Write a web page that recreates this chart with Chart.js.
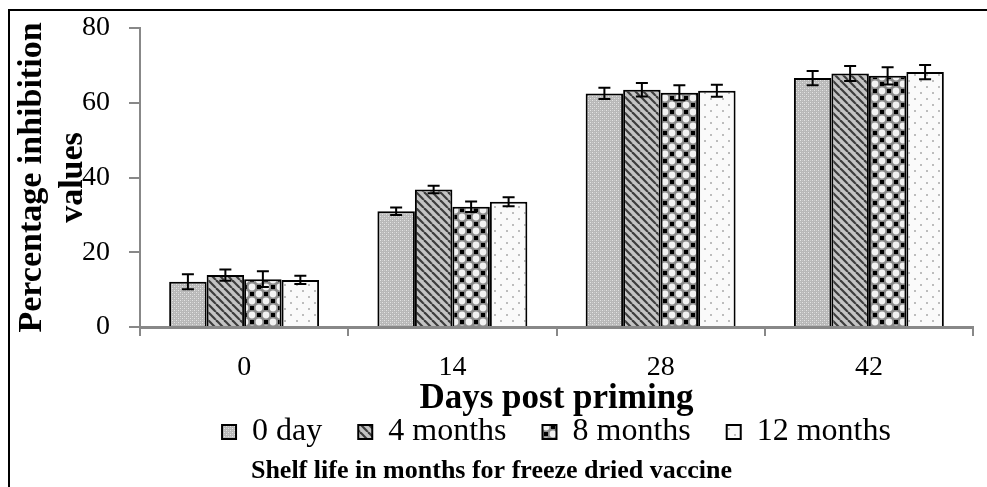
<!DOCTYPE html>
<html>
<head>
<meta charset="utf-8">
<script src="https://cdn.jsdelivr.net/npm/chart.js@4.4.1/dist/chart.umd.min.js"></script>
<style>
    body { margin: 0; background: #fff; }
    #wrap { position: relative; width: 987px; height: 487px; overflow: hidden; }
    #frame { position: absolute; left: 8px; top: 9px; width: 990px; height: 490px; border-left: 2px solid #000; border-top: 2px solid #000; }
    canvas { position: absolute; left: 0; top: 0; }
</style>
</head>
<body>
<div id="wrap">
    <canvas id="chart_inhibition" width="987" height="487"></canvas>
    <div id="frame"></div>
</div>
<script>
const DAYS = ["0", "14", "28", "42"];
const SERIES_NAMES = ["0 day", "4 months", "8 months", "12 months"];

const DAY0_VALUES = [12.1, 31.0, 62.5, 66.6];
const MONTH4_VALUES = [13.9, 36.8, 63.5, 67.8];
const MONTH8_VALUES = [12.8, 32.2, 62.7, 67.2];
const MONTH12_VALUES = [12.6, 33.5, 63.2, 68.2];

const DAY0_ERRORS = [2.0, 1.0, 1.5, 1.9];
const MONTH4_ERRORS = [1.5, 1.0, 1.8, 2.0];
const MONTH8_ERRORS = [2.1, 1.4, 2.0, 2.3];
const MONTH12_ERRORS = [1.1, 1.2, 1.6, 1.9];

const Y_TICKS = [0, 20, 40, 60, 80];

const FONT = "'Liberation Serif', 'Times New Roman', serif";

// small canvas tiles used as fill patterns
const makeTile = (size, draw) => {
    const c = document.createElement("canvas");
    c.width = size;
    c.height = size;
    const g = c.getContext("2d");
    draw(g, size);
    return g.createPattern(c, "repeat");
};

const patternDots = makeTile(4, (g, s) => {
    g.fillStyle = "#b8b8b8";
    g.fillRect(0, 0, s, s);
    g.fillStyle = "#e4e4e4";
    g.fillRect(0, 0, 1, 1);
    g.fillRect(2, 2, 1, 1);
    g.fillStyle = "#cacaca";
    g.fillRect(2, 0, 1, 1);
    g.fillRect(0, 2, 1, 1);
});

const patternStripes = makeTile(8, (g, s) => {
    g.fillStyle = "#c4c4c4";
    g.fillRect(0, 0, s, s);
    g.strokeStyle = "#3c3c3c";
    g.lineWidth = 2.2;
    for (let k = -1; k <= 1; k++) {
        g.beginPath();
        g.moveTo(k * s, 0);
        g.lineTo(k * s + s, s);
        g.stroke();
    }
});

const patternChecker = makeTile(14, (g, s) => {
    g.fillStyle = "#8a8a8a";
    g.fillRect(0, 0, s, s);
    g.fillStyle = "#f2f2f2";
    [[s / 2, 0], [0, s / 2], [s, s / 2], [s / 2, s]].forEach(([x, y]) => {
        g.beginPath();
        g.arc(x, y, 3.4, 0, Math.PI * 2);
        g.fill();
    });
    g.fillStyle = "#000";
    g.fillRect(0, 0, 2, 2);
    g.fillRect(s - 2, 0, 2, 2);
    g.fillRect(0, s - 2, 2, 2);
    g.fillRect(s - 2, s - 2, 2, 2);
    g.fillRect(s / 2 - 2, s / 2 - 2, 4, 4);
});

const patternSparse = makeTile(12, (g, s) => {
    g.fillStyle = "#fafafa";
    g.fillRect(0, 0, s, s);
    g.fillStyle = "#bdbdbd";
    g.fillRect(2, 2, 2, 2);
    g.fillRect(8, 8, 2, 2);
});

const errorBars = {
    id: "errorBars",
    afterDatasetsDraw(chart) {
        const ctx = chart.ctx;
        const y = chart.scales.y;
        ctx.save();
        ctx.strokeStyle = "#000";
        ctx.lineWidth = 2;
        chart.data.datasets.forEach((ds, i) => {
            const meta = chart.getDatasetMeta(i);
            meta.data.forEach((bar, j) => {
                const v = ds.data[j];
                const e = ds.errors[j];
                const top = y.getPixelForValue(v + e);
                const bottom = y.getPixelForValue(v - e);
                const cap = 6;
                ctx.beginPath();
                ctx.moveTo(bar.x, top);
                ctx.lineTo(bar.x, bottom);
                ctx.moveTo(bar.x - cap, top);
                ctx.lineTo(bar.x + cap, top);
                ctx.moveTo(bar.x - cap, bottom);
                ctx.lineTo(bar.x + cap, bottom);
                ctx.stroke();
            });
        });
        ctx.restore();
    },
};

const makeDataset = (label, values, errors, fill) => ({
    label: label,
    data: values,
    errors: errors,
    backgroundColor: fill,
    borderColor: "#000",
    borderWidth: 2,
    categoryPercentage: 0.72,
    barPercentage: 1.0,
});

const ctx = document.getElementById("chart_inhibition");
const inhibitionChart = new Chart(ctx, {
    type: "bar",
    data: {
        labels: DAYS,
        datasets: [
            makeDataset(SERIES_NAMES[0], DAY0_VALUES, DAY0_ERRORS, patternDots),
            makeDataset(SERIES_NAMES[1], MONTH4_VALUES, MONTH4_ERRORS, patternStripes),
            makeDataset(SERIES_NAMES[2], MONTH8_VALUES, MONTH8_ERRORS, patternChecker),
            makeDataset(SERIES_NAMES[3], MONTH12_VALUES, MONTH12_ERRORS, patternSparse),
        ],
    },
    options: {
        responsive: false,
        animation: false,
        layout: {
            padding: { left: 10, right: 14, top: 0, bottom: 3 },
        },
        plugins: {
            tooltip: { enabled: false },
            legend: {
                position: "bottom",
                fullSize: false,
                labels: {
                    color: "#000",
                    font: { family: FONT, size: 32, lineHeight: 1.0 },
                    boxWidth: 14,
                    boxHeight: 14,
                    padding: 36,
                },
            },
            subtitle: {
                display: true,
                position: "bottom",
                text: "Shelf life in months for freeze dried vaccine",
                color: "#000",
                font: { family: FONT, size: 26, weight: "bold", lineHeight: 1.0 },
                padding: 0,
            },
        },
        scales: {
            x: {
                grid: {
                    drawOnChartArea: false,
                    color: "#888",
                    lineWidth: 2,
                    tickLength: 9,
                },
                border: { color: "#888", width: 3 },
                ticks: {
                    color: "#000",
                    font: { family: FONT, size: 28, lineHeight: 1.0 },
                    padding: 18,
                },
                title: {
                    display: true,
                    text: "Days post priming",
                    color: "#000",
                    font: { family: FONT, size: 35, weight: "bold", lineHeight: 1.0 },
                    padding: { top: -19, bottom: -36 },
                },
            },
            y: {
                min: 0,
                max: 80,
                afterBuildTicks: (scale) => {
                    scale.ticks = Y_TICKS.map((v) => ({ value: v }));
                },
                afterFit: (scale) => {
                    scale.width = 130;
                    scale.paddingTop = 28;
                },
                grid: {
                    drawOnChartArea: false,
                    color: "#888",
                    lineWidth: 2,
                    tickLength: 11,
                },
                border: { color: "#888", width: 2 },
                ticks: {
                    color: "#000",
                    font: { family: FONT, size: 28, lineHeight: 1.0 },
                    padding: 19,
                },
                title: {
                    display: true,
                    text: ["Percentage inhibition", "values"],
                    color: "#000",
                    font: { family: FONT, size: 34, weight: "bold", lineHeight: 1.2 },
                    padding: { top: 2, bottom: 0 },
                },
            },
        },
    },
    plugins: [errorBars],
});
</script>
</body>
</html>
